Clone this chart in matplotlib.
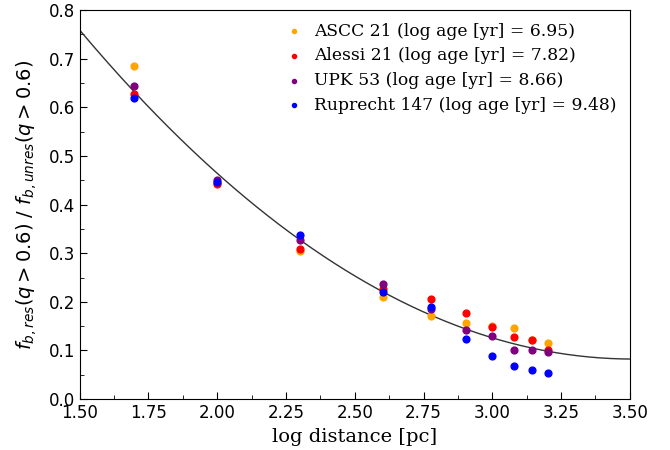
import numpy as np
import matplotlib.pyplot as plt
from matplotlib.ticker import MultipleLocator, FormatStrFormatter

# log distance of each bin [pc]
log_dist = [1.699, 2.000, 2.301, 2.602, 2.778, 2.903, 3.000, 3.079, 3.146, 3.204]

# resolved / unresolved binary fraction ratio per cluster
ascc21 = [0.685, 0.445, 0.304, 0.209, 0.171, 0.157, 0.150, 0.146, 0.121, 0.116]
alessi21 = [0.628, 0.442, 0.308, 0.227, 0.205, 0.177, 0.149, 0.127, 0.122, 0.102]
upk53 = [0.643, 0.451, 0.328, 0.237, 0.186, 0.143, 0.129, 0.101, 0.100, 0.096]
ruprecht147 = [0.618, 0.447, 0.337, 0.221, 0.190, 0.123, 0.088, 0.068, 0.059, 0.053]

names = ["ASCC 21", "Alessi 21", "UPK 53", "Ruprecht 147"]
log_ages = [6.95, 7.82, 8.66, 9.48]
colors = ["orange", "red", "purple", "blue"]

fig = plt.figure(figsize=(6.7, 4.5), dpi=100)
ax = fig.add_axes([0.119, 0.113, 0.821, 0.865])

all_x, all_y = [], []
for name, age, col, vals in zip(names, log_ages, colors,
                                [ascc21, alessi21, upk53, ruprecht147]):
    ax.scatter(log_dist, vals, s=24, color=col, zorder=3,
               label=f"{name} (log age [yr] = {age:.2f})")
    all_x += log_dist
    all_y += vals

# quadratic fit through all points
coef = np.polyfit(all_x, all_y, 2)
xx = np.linspace(1.5, 3.5, 200)
ax.plot(xx, np.polyval(coef, xx), color="#333333", lw=1, zorder=2)

ax.set_xlim(1.5, 3.5)
ax.set_ylim(0, 0.8)
ax.xaxis.set_major_locator(MultipleLocator(0.25))
ax.xaxis.set_minor_locator(MultipleLocator(0.125))
ax.yaxis.set_major_locator(MultipleLocator(0.1))
ax.yaxis.set_minor_locator(MultipleLocator(0.05))
ax.xaxis.set_major_formatter(FormatStrFormatter("%.2f"))
ax.yaxis.set_major_formatter(FormatStrFormatter("%.1f"))
ax.tick_params(which="both", direction="in", labelsize=12)
ax.tick_params(which="major", length=5)
ax.tick_params(which="minor", length=3)

ax.set_xlabel("log distance [pc]", family="DejaVu Serif", fontsize=14, labelpad=4)
ax.set_ylabel(r"$f_{b,res}(q > 0.6)$ / $f_{b,unres}(q > 0.6)$", fontsize=14,
              labelpad=7)

ax.legend(loc="upper right", frameon=False, markerscale=0.6, handletextpad=0.2,
          prop={"family": "DejaVu Serif", "size": 12.3}, labelspacing=0.45,
          borderaxespad=0.35)

fig.savefig("out.png", dpi=100)
